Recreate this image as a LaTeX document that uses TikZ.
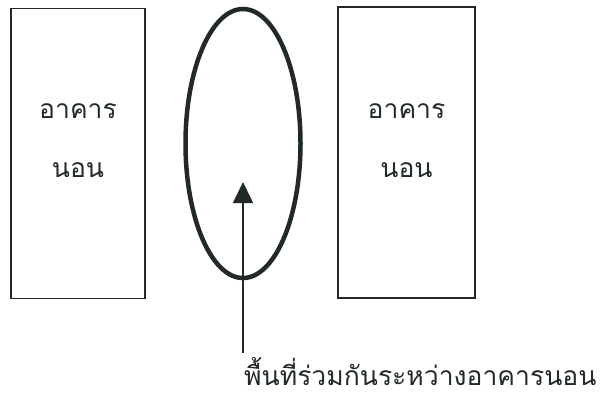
\documentclass[tikz,border=0pt]{standalone}
\usepackage{fontspec}
\newfontfamily\thaifont[Script=Thai]{Loma}
\usetikzlibrary{arrows.meta,shapes.geometric}
\definecolor{ink}{HTML}{222A26}
\tikzset{
  bld/.style={draw=ink, line width=1.6bp, rectangle, inner sep=0pt},
  oval/.style={draw=ink, line width=4.5bp, ellipse, inner sep=0pt},
  lbl/.style={font=\thaifont\fontsize{26.5bp}{30bp}\selectfont, text=ink, inner sep=0pt, anchor=base},
  ptr/.style={draw=ink, line width=1.6bp, -{Triangle[width=20bp,length=21bp]}}
}
\begin{document}
\begin{tikzpicture}[x=1bp,y=-1bp]
\useasboundingbox (0,0) rectangle (604,398);
\node[bld, minimum width=134bp, minimum height=290bp] (L) at (78,153.5) {};
\node[bld, minimum width=137bp, minimum height=291bp] (R) at (406.5,152.5) {};
\node[oval, minimum width=115bp, minimum height=269bp] (E) at (243,143.5) {};
\node[lbl] (L1) at (78,118) {อาคาร};
\node[lbl] (L2) at (78,177) {นอน};
\node[lbl] (R1) at (406.5,118) {อาคาร};
\node[lbl] (R2) at (406.5,177) {นอน};
\node[lbl, anchor=base west] (T) at (244,385) {พื้นที่ร่วมกันระหว่างอาคารนอน};
\coordinate (S) at (243,353);
\coordinate (H) at (243,182);
\draw[ptr] (S) -- (H);
\end{tikzpicture}
\end{document}
